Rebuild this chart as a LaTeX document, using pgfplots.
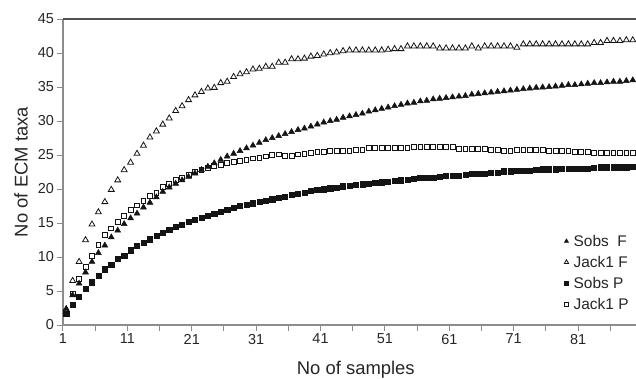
\documentclass[border=0pt]{standalone}
\usepackage{pgfplots}
\pgfplotsset{compat=1.18}
\usepackage{pgfplotstable}
\usepackage{fontspec}
\setmainfont{Liberation Sans}
\definecolor{axgray}{RGB}{140,140,140}
\definecolor{topgray}{RGB}{80,80,80}
\definecolor{mk}{RGB}{20,20,20}

\pgfplotstableread{
n sF jF sP jP
1 2.4 2.0 1.7 1.9
2 4.4 6.5 3.0 4.55
3 6.1 9.3 4.2 6.75
4 7.75 12.5 5.3 8.5
5 9.3 14.8 6.3 10.2
6 10.6 16.6 7.3 11.8
7 11.7 18.1 8.2 13.3
8 12.9 19.9 8.9 14.2
9 13.9 21.3 9.7 15.2
10 14.85 22.8 10.2 16.0
11 15.7 23.9 11.0 16.9
12 16.4 25.2 11.6 17.6
13 17.3 26.4 12.1 18.2
14 18.0 27.6 12.6 19.0
15 18.8 28.5 13.1 19.45
16 19.6 29.5 13.6 20.3
17 20.25 30.4 14.0 20.8
18 20.8 31.5 14.4 21.3
19 21.3 32.2 14.8 21.7
20 21.8 33.1 15.2 22.1
21 22.3 33.8 15.5 22.5
22 22.8 34.3 15.8 22.8
23 23.3 34.8 16.1 23.1
24 23.8 34.9 16.4 23.4
25 24.3 35.6 16.7 23.6
26 24.8 35.8 17.0 23.8
27 25.2 36.5 17.3 24.0
28 25.6 36.9 17.5 24.1
29 26.0 37.2 17.7 24.3
30 26.4 37.6 17.9 24.5
31 26.8 37.7 18.1 24.6
32 27.2 38.0 18.3 24.8
33 27.5 38.0 18.5 25.0
34 27.8 38.6 18.7 25.1
35 28.1 38.6 18.9 24.9
36 28.4 39.1 19.1 24.9
37 28.7 39.1 19.3 25.1
38 28.9 39.2 19.5 25.2
39 29.2 39.5 19.7 25.3
40 29.5 39.6 19.85 25.5
41 29.8 39.8 19.95 25.5
42 30.0 40.0 20.1 25.6
43 30.2 40.1 20.2 25.6
44 30.5 40.3 20.4 25.6
45 30.7 40.4 20.5 25.6
46 30.9 40.4 20.6 25.8
47 31.1 40.4 20.7 25.8
48 31.4 40.4 20.8 26.1
49 31.6 40.4 20.9 26.1
50 31.8 40.4 21.0 26.1
51 32.0 40.5 21.1 26.1
52 32.2 40.6 21.2 26.1
53 32.4 40.6 21.3 26.1
54 32.6 41.0 21.4 26.1
55 32.7 41.0 21.5 26.2
56 32.9 41.0 21.6 26.2
57 33.0 41.0 21.6 26.2
58 33.2 41.0 21.7 26.2
59 33.3 40.7 21.8 26.2
60 33.4 40.7 21.9 26.2
61 33.5 40.7 21.9 26.2
62 33.6 40.7 22.0 25.9
63 33.7 40.7 22.1 25.9
64 33.9 41.0 22.2 25.9
65 34.0 40.7 22.2 25.9
66 34.1 41.0 22.3 25.9
67 34.2 41.0 22.4 25.8
68 34.3 41.0 22.4 25.8
69 34.4 41.0 22.6 25.6
70 34.5 41.0 22.6 25.6
71 34.6 40.8 22.7 25.8
72 34.7 41.3 22.7 25.8
73 34.8 41.3 22.7 25.8
74 34.9 41.3 22.8 25.8
75 34.95 41.3 22.9 25.8
76 35.0 41.3 22.9 25.6
77 35.1 41.3 22.9 25.6
78 35.2 41.3 23.0 25.6
79 35.3 41.3 23.0 25.6
80 35.3 41.3 23.0 25.5
81 35.4 41.3 23.0 25.5
82 35.5 41.3 23.0 25.5
83 35.6 41.5 23.1 25.35
84 35.6 41.5 23.2 25.35
85 35.7 41.8 23.2 25.35
86 35.8 41.8 23.2 25.35
87 35.8 41.8 23.2 25.35
88 35.9 41.9 23.2 25.35
89 36.0 41.9 23.3 25.35
}\data

\begin{document}
\begin{tikzpicture}
\begin{axis}[
  scale only axis, width=573bp, height=306bp,
  xmin=0.5, xmax=89.5, ymin=0, ymax=45,
  axis x line*=bottom, axis y line*=left,
  axis line style={-, draw=axgray, line width=1.3bp},
  xtick={0.5,10.5,20.5,30.5,40.5,50.5,60.5,70.5,80.5},
  xticklabels={1,11,21,31,41,51,61,71,81},
  minor xtick={5.5,15.5,25.5,35.5,45.5,55.5,65.5,75.5,85.5},
  ytick={0,5,...,45},
  tick align=outside, major tick length=5.5bp, minor tick length=5.5bp,
  every tick/.style={draw=axgray, line width=1bp},
  tick label style={font=\fontsize{14.5}{16}\selectfont, text=black!85},
  /pgf/number format/assume math mode=true,
  xlabel={No of samples}, ylabel={No of ECM taxa},
  label style={font=\fontsize{18.5}{20}\selectfont, text=black!85},
  xlabel style={at={(axis description cs:0.511,0)}, anchor=base, yshift=-49.3bp},
  ylabel style={at={(axis description cs:-0.0733,0.5)}, anchor=center},
  clip=false,
  legend style={draw=none, fill=none, at={(axis description cs:0.99,0.30)}, anchor=north east,
    font=\fontsize{15.5}{17}\selectfont, inner sep=0pt, row sep=5.3bp,
    nodes={inner sep=1.5bp, text=black!85}},
  legend cell align=left,
  legend image code/.code={\path[mark repeat=2,mark phase=2,#1] plot coordinates {(0cm,0cm) (0.2cm,0cm) (0.4cm,0cm)};},
  legend image post style={every mark/.append style={scale=0.72}},
]
\addplot[draw=none, mark=triangle*, mark size=3.4bp, mark options={draw=mk, fill=mk, line width=0.5bp}] table[x=n,y=sF]{\data};
\addlegendentry{Sobs\ \ F}
\addplot[draw=none, mark=triangle, mark size=3.4bp, mark options={draw=mk, fill=white, line width=0.8bp}] table[x=n,y=jF]{\data};
\addlegendentry{Jack1 F}
\addplot[draw=none, mark=square*, mark size=2.6bp, mark options={draw=mk, fill=mk, line width=0.5bp}] table[x=n,y=sP]{\data};
\addlegendentry{Sobs P}
\addplot[draw=none, mark=square, mark size=2.4bp, mark options={draw=mk, fill=white, line width=0.8bp}] table[x=n,y=jP]{\data};
\addlegendentry{Jack1 P}
\draw[topgray, line width=1.2bp] (rel axis cs:0,1) -- (rel axis cs:1.05,1);
\coordinate (sw) at (rel axis cs:0,0);
\end{axis}
\pgfresetboundingbox
\path[use as bounding box] ([xshift=-63bp,yshift=-54bp]sw) rectangle ++(636bp,379bp);
\end{tikzpicture}
\end{document}
